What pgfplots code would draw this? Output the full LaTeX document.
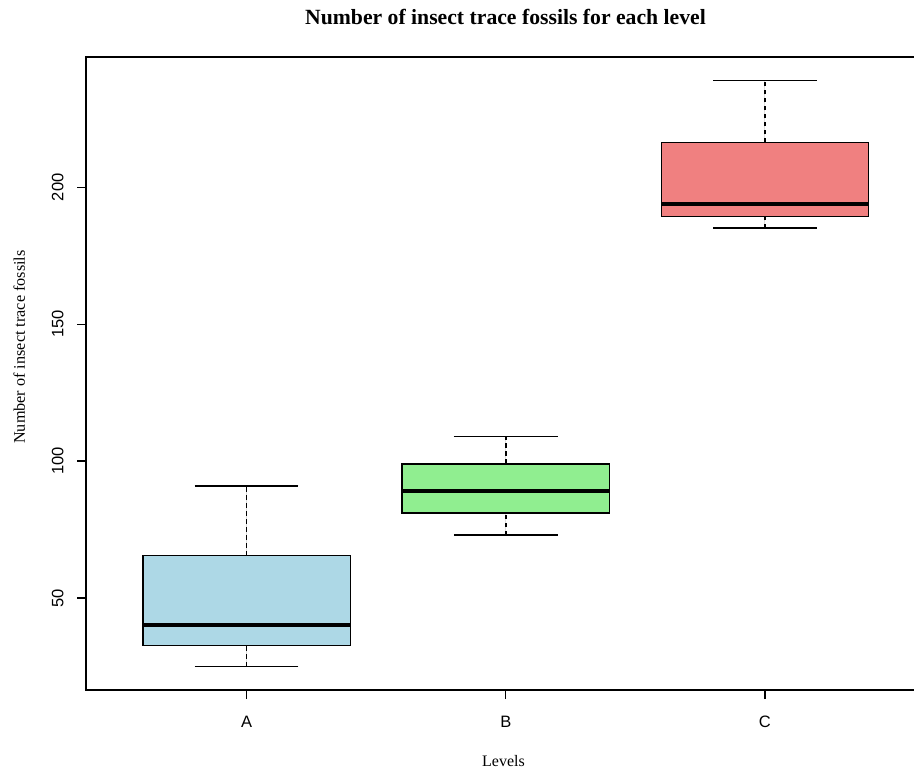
\documentclass[border=0pt]{standalone}
\usepackage{fontspec}
\setmainfont{Liberation Serif}
\setsansfont{Liberation Sans}
\usepackage{pgfplots}
\pgfplotsset{compat=1.18}
\usepgfplotslibrary{statistics}
\definecolor{boxA}{RGB}{173,216,230}
\definecolor{boxB}{RGB}{144,238,144}
\definecolor{boxC}{RGB}{240,128,128}
\begin{document}
\begin{tikzpicture}
\begin{axis}[
  scale only axis,
  width=839.6pt, height=633pt,
  xmin=0.38, xmax=3.62,
  ymin=16.44, ymax=247.56,
  axis line style={line width=1.4pt, black},
  xtick={1,2,3}, xticklabels={A,B,C},
  ytick={50,100,150,200},
  tick pos=left, tick align=outside,
  major tick length=9pt,
  tick style={line width=1.3pt, black},
  ticklabel style={font=\fontsize{16.5}{16.5}\selectfont\sffamily},
  /pgf/number format/assume math mode=true,
  xticklabel style={anchor=base},
  xticklabel shift=28pt,
  yticklabel style={rotate=90, anchor=base},
  yticklabel shift=13.5pt,
  boxplot/draw direction=y,
  boxplot/every median/.style={line width=4pt, black},
  boxplot/draw/lower whisker/.code={%
    \draw[line width=1.4pt, black, dash pattern=on 4.5pt off 3.5pt]
      (boxplot cs:\pgfplotsboxplotvalue{lower whisker}) -- (boxplot cs:\pgfplotsboxplotvalue{lower quartile});
    \draw[line width=1.8pt, black, solid]
      (boxplot whisker cs:\pgfplotsboxplotvalue{lower whisker},0) -- (boxplot whisker cs:\pgfplotsboxplotvalue{lower whisker},1);
  },
  boxplot/draw/upper whisker/.code={%
    \draw[line width=1.4pt, black, dash pattern=on 4.5pt off 3.5pt]
      (boxplot cs:\pgfplotsboxplotvalue{upper quartile}) -- (boxplot cs:\pgfplotsboxplotvalue{upper whisker});
    \draw[line width=1.8pt, black, solid]
      (boxplot whisker cs:\pgfplotsboxplotvalue{upper whisker},0) -- (boxplot whisker cs:\pgfplotsboxplotvalue{upper whisker},1);
  },
]
\addplot[boxplot prepared={lower whisker=25, lower quartile=32.7, median=40.2, upper quartile=65.5, upper whisker=91, draw position=1, box extend=0.8, whisker extend=0.4}, fill=boxA, draw=black, line width=1.4pt] coordinates {};
\addplot[boxplot prepared={lower whisker=73, lower quartile=81, median=89, upper quartile=99, upper whisker=109, draw position=2, box extend=0.8, whisker extend=0.4}, fill=boxB, draw=black, line width=1.4pt] coordinates {};
\addplot[boxplot prepared={lower whisker=185, lower quartile=189.3, median=193.8, upper quartile=216.4, upper whisker=239, draw position=3, box extend=0.8, whisker extend=0.4}, fill=boxC, draw=black, line width=1.4pt] coordinates {};
\end{axis}
\node[anchor=base, font=\fontsize{21.7}{21.7}\selectfont\bfseries] at (419.5pt,665pt) {Number of insect trace fossils for each level};
\node[anchor=base, font=\fontsize{16}{16}\selectfont] at (417.5pt,-77pt) {Levels};
\node[anchor=base, rotate=90, font=\fontsize{16.2}{16.2}\selectfont] at (-61pt,343pt) {Number of insect trace fossils};
\pgfresetboundingbox
\useasboundingbox (-86pt,-79pt) rectangle (828pt,690pt);
\end{tikzpicture}
\end{document}
